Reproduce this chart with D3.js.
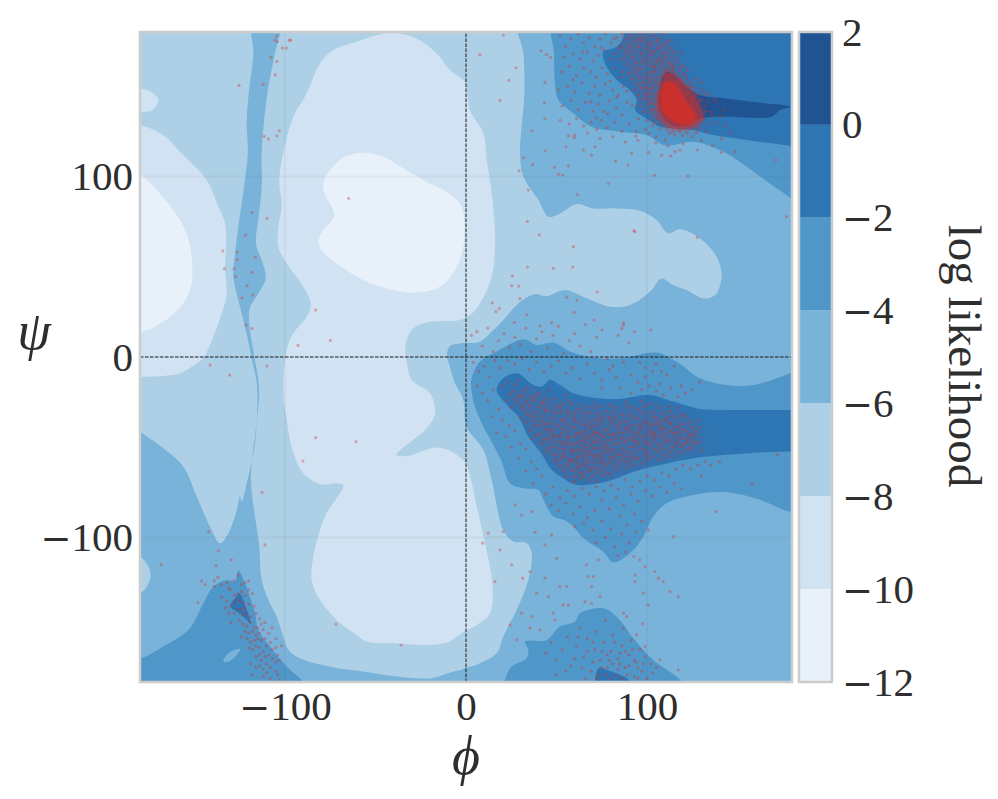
<!DOCTYPE html>
<html>
<head>
<meta charset="utf-8">
<script src="https://cdn.jsdelivr.net/npm/d3@7"></script>
<style>
body { margin: 0; background: #fff; }
text { font-family: "Liberation Serif", serif; fill: #2e2e2e; }
</style>
</head>
<body>
<div class="container"></div>
<script>
// tick labels and levels
let xTicks = [-100, 0, 100]
let yTicks = [-100, 0, 100]
let levels = [-12, -10, -8, -6, -4, -2, 0, 2]
let levelColors = ['#e8f1fa', '#d1e2f2', '#add0e6', '#7ab3da', '#4f97c9', '#2e75b4', '#1f5391']

// contour outlines, [phi, psi], off-plot points get clipped
let level6Left = [[-118.3,190],[-117.4,168.1],[-119.6,149.7],[-121.1,131.2],[-120.5,112.8],[-122.6,94.3],[-125.7,72.1],[-127.5,57.4],[-128.5,44.4],[-125.7,31.5],[-122,16.8],[-118.5,0.2],[-115.5,-14.6],[-115.2,-25.6],[-116.5,-47.8],[-121.1,-70],[-123.9,-80.1],[-124.8,-77.3],[-126.6,-84.7],[-131.2,-97.6],[-135.8,-103.2],[-141.3,-94],[-148.7,-77.3],[-156.1,-60.7],[-167.1,-50.6],[-180,-41.3],[-200,-25],[-200,-200],[10,-200],[0.3,-174.2],[-19.9,-178],[-38.3,-177],[-56.7,-174.2],[-75.1,-171.5],[-91.7,-166.9],[-98.1,-162.2],[-100.9,-154.9],[-104.5,-143.8],[-109.1,-134.6],[-112.8,-123.5],[-113.7,-114.2],[-114.1,-105],[-116.5,-88.4],[-118.7,-70],[-118.3,-58.9],[-115.2,-33],[-114.2,-20.1],[-115.2,-9],[-117,1],[-119.6,26],[-114.7,35.2],[-110.6,43.5],[-112.8,53.7],[-116,62.9],[-114.7,75.8],[-112.8,94.3],[-112.8,112.8],[-111.5,131.2],[-109.1,149.7],[-105.5,168.1],[-101.8,190]]
let level6Right = [[29,190],[31.7,168],[32.2,146],[29.8,112.8],[31.7,99.8],[40,86.9],[45.5,77.7],[51.9,79.5],[61.1,84.7],[70.3,82.3],[83.2,82.3],[96,81],[105.3,75.8],[111.7,68.4],[118.1,70.7],[129.2,65.7],[138.4,55.5],[141.1,44.5],[137.5,34.3],[131,32.5],[121.8,37.1],[114.5,39.8],[108,43.5],[101.6,36.1],[90.5,28.8],[79.5,27.8],[66.6,32.5],[54.7,37.1],[44.5,33.7],[38.1,34.9],[28.9,29.7],[20.6,20.5],[15.1,14.9],[7.7,8.5],[-3.3,7.5],[-9,6],[-10.5,1],[-8.9,-5.3],[-6.1,-14.6],[-1.5,-23.8],[0.3,-38.6],[9.6,-51.5],[14.2,-68.1],[20.6,-95.8],[26.1,-102.2],[33.5,-103.1],[36.3,-108.7],[34.4,-123.5],[28,-140],[20.6,-154.8],[17,-164],[5.9,-170.5],[-3.3,-174.2],[-3,-200],[200,-200],[200,190]]
let level8Nub = [[-180,-110.6],[-174.5,-118],[-174.5,-123.5],[-180,-130.9],[-195,-131],[-195,-110]]
let level10Left = [[-180,128.4],[-167.1,122.9],[-157.9,113.7],[-143.2,98],[-136.7,83.2],[-133,74],[-132.5,61.1],[-133,48.1],[-132.1,35.2],[-134.9,24.2],[-139.5,11.2],[-144.6,0.2],[-148.7,-3.5],[-157.9,-9],[-167.1,-10.5],[-180,-10.9],[-200,-11],[-200,128]]
let level10Nub = [[-180,148.8],[-172.6,146],[-169.9,142.3],[-172.6,137.1],[-180,135.5],[-195,135],[-195,149]]
let level10Center = [[-99,3.9],[-95.3,13.1],[-88,22.3],[-85.6,28.8],[-89.8,38.9],[-99,51.8],[-103.6,61.1],[-103.6,72.1],[-101.8,83.2],[-103.1,98],[-100.9,112.8],[-95.3,133.1],[-88,146],[-80.6,162.6],[-73.3,170],[-60.4,174.6],[-47.5,178.8],[-39.2,179.6],[-27.3,176.4],[-16.2,168.1],[-8.9,158.9],[-0.6,152.4],[0.4,147.8],[2.2,136.8],[9.6,123.8],[11.4,109.1],[14.2,90.6],[16,64.8],[14.2,44.5],[7.7,29.7],[2.2,23.2],[-3.3,20.5],[-19.9,19.5],[-29.1,15.8],[-33.3,7.5],[-32.8,-1.6],[-30,-12.7],[-19.9,-20.1],[-17.1,-31.2],[-21.7,-39.5],[-38.3,-54.2],[-32.8,-54.8],[-14.4,-50.2],[-1.5,-57],[1.3,-62.5],[5.9,-82.8],[10.5,-103.1],[14.5,-125.3],[13.3,-141.9],[5.9,-148.4],[-3.3,-153.4],[-8.9,-157.6],[-19.9,-159.5],[-38.3,-158.5],[-54.9,-157.6],[-60.4,-153.9],[-71.4,-145.6],[-80.6,-134.6],[-85.2,-123.5],[-84.3,-110.6],[-80.6,-95.8],[-77,-86.6],[-67.7,-70.9],[-71.4,-70],[-80.6,-70.5],[-89.8,-64.4],[-95.3,-53.3],[-99,-34.9],[-100.9,-18.3]]
let level12Left = [[-180,100.8],[-170.8,92.5],[-161.6,81.4],[-155.1,70.3],[-152,59.2],[-151.5,40.8],[-156.1,29.7],[-167.1,19.5],[-180,13.6],[-200,13],[-200,101]]
let level12Center = [[-78.8,96.1],[-75.1,103.5],[-67.7,110.5],[-56.7,113.1],[-45.7,110.9],[-34.6,104.5],[-23.6,98],[-10.7,91.5],[-3.3,85.1],[-1,75.8],[-1.5,61.1],[-6.1,48.1],[-14.4,38.9],[-29.1,35.6],[-43.8,38],[-58.5,43.5],[-71.4,51.8],[-79.7,59.2],[-81.5,63.8],[-78.8,70.3],[-72.9,77.7],[-74.2,83.2],[-77.9,89.7]]
let level4Top = [[48.6,190],[48.6,168.1],[49.1,151.5],[51,142.3],[59.3,134.9],[69.4,127.5],[85,124.8],[99.7,122.9],[108.9,117.4],[114.5,117.4],[125.5,119.2],[142.1,113.7],[155,105.4],[167.8,96.1],[179.4,87.8],[200,70],[200,190]]
let level4Mid = [[3.1,-11.8],[7.7,-2.5],[16.9,3],[31.7,9.8],[39,6.7],[48.2,8],[57.4,3],[68.5,-0.1],[85,-0.7],[105.3,2.4],[116.3,-2.5],[129.2,-11.8],[143.9,-15.5],[158.6,-15.5],[178.9,-9],[200,0],[200,-85],[178.9,-85.6],[162.3,-79.1],[143.9,-74.9],[125.5,-76.4],[110.8,-81],[103.4,-88.4],[97.9,-99.5],[90.5,-108.7],[81.3,-113.7],[75.8,-107.8],[64.8,-100.4],[59.3,-93.9],[53.7,-90.2],[48.2,-88.4],[42.7,-79.1],[40,-73.6],[31.7,-72.7],[24.3,-69.9],[19.7,-57.9],[15.1,-48.7],[9.6,-38.5],[5,-27.5],[3.1,-19.2]]
let level4Bottom = [[22.5,-190],[24.3,-172.4],[33.5,-166.8],[34.4,-162.2],[32.6,-157.6],[44.5,-156.7],[51.9,-149.3],[60.2,-146.5],[62.9,-141.9],[75.8,-139.1],[83.2,-143.8],[92.4,-155.8],[103.4,-167.8],[119,-179.4],[130,-195]]
let level4Left = [[-180,-166.9],[-167.1,-160.4],[-152.4,-150.2],[-145.9,-138.2],[-139.5,-127.2],[-132.1,-123.5],[-127.5,-124.4],[-125.7,-118.3],[-122,-125.3],[-116.5,-142],[-114.7,-151.2],[-108.2,-160.4],[-99,-171.5],[-89.8,-179.8],[-80,-195],[-200,-195],[-200,-167]]
let level6Hole = [[-134,-168.7],[-131.2,-164.1],[-124.8,-161.7],[-126.6,-165],[-131.2,-168.7]]
let level2Top = [[86.9,190],[86.9,177.4],[83.2,171.8],[75.8,169],[76.7,162.6],[83.2,153.4],[90.5,147.8],[94.2,142.3],[93.3,136.8],[99.7,132.1],[107.1,127.5],[114.5,126.6],[125.5,125.7],[136.5,122.9],[153.1,120.5],[179.4,116.8],[200,114],[200,190]]
let level2Mid = [[16.9,-18.2],[20.6,-11.8],[28,-9],[37.2,-15.5],[41.8,-16.4],[46.4,-12.7],[51.9,-15.5],[59.3,-20.1],[70.3,-22.5],[85,-23.2],[101.6,-21],[114.5,-24.7],[129.2,-28.8],[143.9,-29.3],[178.9,-29.3],[200,-29],[200,-52],[178.9,-52.4],[162.3,-52.9],[143.9,-54.2],[125.5,-56.1],[107.1,-59.8],[92.4,-63.5],[77.7,-69],[61.1,-70.8],[53.7,-67.1],[47.3,-62.5],[40.9,-52.4],[34.4,-44.1],[28.9,-33],[22.5,-26.5]]
let level2Left = [[-129.7,-136.4],[-127.5,-133.6],[-125.1,-130.9],[-122,-137.3],[-118.9,-147.5],[-122,-144.7],[-126.6,-141],[-129.4,-139.2]]
let level2Bottom = [[73,-190],[73.1,-172.4],[77.7,-173.3],[85,-176],[90.5,-179.4],[95,-190]]
let level0Top = [[107.1,149.7],[108.9,156.1],[111.7,158],[116.3,155.2],[121.8,149.7],[129.2,145.1],[143.9,143.2],[162.3,140.8],[179.4,138.6],[173.3,136.8],[168.7,133.1],[143.9,133.1],[129.2,132.1],[121.8,128.4],[114.5,128.4],[108,134],[106.2,140.4]]

// samples, estimated by eye
let samplesLeft = [[-104.5,177.7],[-105.5,175.5],[-104.2,174.6],[-97.5,175.5],[-96.8,175.5],[-101.4,171.1],[-99.2,171.1],[-107.7,165.9],[-104.4,163.7],[-105.3,156.3],[-125.3,150.4],[-111.9,151],[-103.1,125.3],[-104.4,122.5],[-111.5,122.2],[-109.1,120.7],[-64.8,87.8],[-118.2,80.1],[-109.9,76.8],[-121.8,67.5],[-134.2,58.8],[-126.4,58.1],[-126.3,53.9],[-116.3,55.3],[-133.4,48.9],[-128.1,48.9],[-118.2,47],[-127.2,44.5],[-120.9,39.5],[-117.8,34.3],[-123.7,32.8],[-83,26],[-121.5,17.7],[-118.2,15.8],[-74.9,9.2],[-92.8,6.4],[-141.3,-4.4],[-130.5,-10],[-109.9,-5],[-83,-44.7],[-60.8,-46.9],[-90,-57.6],[-112.6,-75],[-142.1,-96.7],[-111,-104.1],[-71.8,-148],[-35.9,-159.5],[-168.4,-115],[-136.7,-107.4],[-129.6,-112.4],[-138,-115.5]]
let samplesLowerLeft = [[-146,-124],[-148,-136],[-144,-126],[-139,-124],[-139,-127],[-137,-122],[-135,-126],[-132,-125],[-131,-128],[-130,-129],[-128,-124],[-126,-121],[-124,-126],[-122,-125],[-120,-124],[-135,-133],[-132,-135],[-128,-132],[-126,-131],[-124,-130],[-122,-132],[-120,-129],[-118,-131],[-133,-139],[-130,-138],[-128,-136],[-127,-134],[-125,-135],[-123,-136],[-122,-139],[-120,-137],[-117,-138],[-131,-142],[-128,-142],[-126,-140],[-124,-140],[-123,-143],[-121,-142],[-119,-144],[-116,-142],[-114,-145],[-113,-148],[-130,-147],[-125,-146],[-123,-148],[-121,-149],[-119,-147],[-117,-150],[-115,-150],[-111,-147],[-122,-152],[-120,-153],[-118,-152],[-116,-154],[-114,-153],[-112,-151],[-109,-153],[-107,-150],[-124,-155],[-121,-156],[-119,-158],[-117,-157],[-115,-156],[-113,-157],[-111,-156],[-108,-158],[-105,-156],[-120,-161],[-118,-162],[-116,-160],[-114,-161],[-112,-163],[-110,-160],[-107,-162],[-105,-161],[-102,-160],[-116,-166],[-114,-165],[-113,-168],[-111,-166],[-109,-165],[-107,-167],[-105,-169],[-104,-165],[-103,-168],[-119,-170],[-116,-172],[-114,-171],[-112,-173],[-110,-170],[-108,-172],[-105,-174],[-118,-176],[-112,-177],[-110,-175],[-108,-178],[-104,-176],[-103,-179]]
let samplesSparseRight = [[7.7,167.6],[20.6,178.3],[27.6,160.2],[23.7,153.2],[18.8,142.1],[41.4,169.6],[44.5,167.6],[46.7,165.9],[43.6,152.1],[43.3,140.8],[43.6,132.1],[36.3,125.3],[31.7,110.4],[36.8,106.5],[29.3,103.2],[34.4,92.5],[43.6,114.1],[48.8,105],[51.2,101.3],[53.4,100.8],[56.5,105.9],[55.2,116.4],[56.5,122.5],[59.8,121.6],[64.8,114.6],[69.4,111.8],[71.2,116.4],[78.6,96.1],[61.5,90],[82.6,108.5],[89.6,106.3],[91.5,112.8],[100.7,113.3],[104,100.6],[108,111.8],[113,111.3],[115.4,113.7],[122.4,100.2],[127.9,114.6],[140.8,113.3],[148.5,113.7],[171.1,109.1],[177,77.7],[33.9,75.1],[40.5,67.7],[59.3,61.1],[33.9,49.8],[48.2,49.1],[58.9,49.8],[25.6,44.8],[25.2,39.5],[29.1,39.3],[29.8,32.3],[14.5,30],[18.4,26.9],[16.6,25.1],[55.6,33],[61.3,31.3],[72.5,36],[59.8,24.7],[33.5,23.4],[70.7,20.5],[26.7,19.2],[40.9,17.1],[47.3,19],[86.9,17.7],[86,15.8],[92.7,69.9],[93.3,69.4],[127.7,66.2]]
let samplesTopBand = [[52,178],[55,172],[58,176],[62,179],[65,174],[68,177],[71,172],[74,176],[77,179],[80,174],[83,177],[54,166],[59,168],[63,165],[67,169],[70,164],[73,167],[76,170],[79,165],[82,168],[85,171],[53,158],[57,161],[61,156],[65,160],[69,158],[72,155],[75,160],[78,157],[82,160],[85,155],[51,148],[56,150],[60,147],[64,152],[68,146],[71,150],[74,145],[77,151],[81,148],[84,145],[87,150],[53,139],[58,142],[62,137],[66,141],[70,136],[73,140],[76,136],[79,142],[83,138],[86,134],[89,141],[52,131],[57,129],[61,132],[65,128],[69,130],[72,126],[75,131],[78,127],[82,130],[86,125],[90,129],[94,125],[60,123],[67,124],[74,121],[81,122],[88,119],[95,120],[86,179],[89,176],[91,178],[94,175],[96,179],[98,177],[101,174],[103,178],[106,176],[109,179],[112,175],[85,172],[88,170],[90,173],[93,169],[95,172],[97,168],[99,171],[102,173],[104,169],[107,172],[109,168],[112,171],[115,169],[87,165],[89,162],[92,166],[94,163],[96,160],[98,165],[100,162],[102,167],[104,161],[106,165],[108,162],[110,166],[112,163],[114,160],[117,165],[120,161],[90,157],[92,154],[94,158],[96,155],[98,152],[100,157],[102,154],[104,158],[106,151],[108,155],[110,158],[113,156],[116,157],[118,154],[121,156],[124,152],[127,154],[93,148],[95,145],[97,149],[99,146],[101,143],[103,148],[105,145],[107,142],[109,148],[120,150],[123,147],[126,149],[128,146],[131,148],[134,146],[137,143],[96,139],[98,136],[100,140],[102,137],[104,134],[106,139],[108,136],[124,141],[127,138],[129,142],[132,139],[135,136],[138,141],[142,137],[100,131],[103,128],[105,132],[108,129],[111,126],[114,127],[118,125],[122,124],[125,130],[128,127],[131,132],[134,129],[138,130],[143,128],[146,124],[101,124],[105,122],[110,120],[115,123],[120,118],[125,122],[130,120],[136,117],[141,121],[133,125],[103,150],[105,155],[104,143],[102,146],[106,147],[107,152],[108,158],[111,160],[113,162],[115,161],[118,159],[120,157],[122,154],[124,150],[125,147],[126,144],[128,140],[129,137],[130,134],[127,133],[125,128],[123,127],[120,127],[117,127],[114,125],[111,128],[108,131],[106,133],[105,137],[104,140],[103,137],[102,141],[106,144],[122,146],[124,143],[127,145],[130,142],[132,136],[129,131],[126,130],[119,161],[116,163],[112,159],[109,156],[107,160],[105,163],[103,158],[101,152],[99,149],[100,145]]
let samplesTopExtra = [[91.4,171.2],[94.7,176.6],[97.8,163.3],[101.9,169.4],[105.3,174.7],[108.6,164.1],[111.2,168.8],[99.3,154.6],[103.6,160.7],[107.8,149.2],[92.6,160.1],[95.4,150.8],[110.7,155.3],[114.3,158.6],[117.9,152.4],[122.7,149.3],[125.4,141.6],[131.8,145.2],[104.2,129.7],[101.7,135.4],[98.9,143.2],[106.9,126.3],[112.4,123.8],[119.6,122.6],[127.3,124.4],[135.7,133.8],[133.4,141.7],[86.3,157.9],[83.7,164.6],[88.8,147.3],[91.9,139.6],[95.3,131.8],[83.2,143.7],[79.6,152.8],[74.9,171.4],[81.4,176.2],[64.3,168.7],[68.9,141.3],[59.2,153.6],[71.8,132.4],[78.2,134.7],[99.1,125.9],[93.7,122.3],[104.8,118.6],[111.6,116.9],[118.3,114.6],[102.6,164.3],[106.2,170.8],[96.7,175.1],[89.4,167.9],[109.9,173.2],[113.8,166.7],[118.6,168.4],[122.3,158.7],[100.8,148.6],[96.1,142.7],[104.7,152.9],[107.3,146.1],[129.8,152.1],[140.6,133.4]]
let samplesMidCore = [[20,-16],[23,-14],[26,-19],[29,-13],[31,-22],[34,-17],[37,-24],[40,-20],[43,-26],[46,-18],[49,-23],[52,-28],[55,-21],[58,-26],[22,-24],[25,-28],[28,-25],[32,-29],[35,-27],[38,-31],[41,-33],[44,-30],[47,-34],[50,-31],[53,-35],[56,-30],[59,-33],[62,-29],[65,-34],[68,-31],[71,-28],[74,-33],[77,-30],[80,-35],[83,-28],[86,-32],[89,-27],[92,-34],[95,-29],[98,-31],[101,-26],[104,-33],[107,-28],[110,-35],[113,-30],[116,-33],[30,-34],[33,-36],[36,-33],[35,-41],[38,-38],[41,-43],[44,-37],[46,-41],[48,-44],[51,-38],[53,-42],[55,-37],[57,-44],[60,-39],[62,-43],[64,-37],[66,-41],[68,-45],[70,-38],[72,-42],[74,-36],[76,-44],[78,-40],[80,-37],[82,-43],[84,-39],[86,-45],[88,-36],[90,-41],[92,-38],[94,-44],[96,-40],[98,-36],[100,-43],[102,-38],[104,-42],[106,-37],[108,-44],[110,-40],[112,-36],[114,-43],[116,-39],[118,-42],[120,-37],[122,-41],[124,-36],[126,-44],[42,-48],[44,-52],[46,-46],[48,-50],[50,-54],[52,-47],[54,-51],[56,-46],[58,-53],[60,-48],[62,-52],[64,-46],[66,-50],[68,-54],[70,-47],[72,-51],[74,-46],[76,-53],[78,-49],[80,-46],[82,-52],[84,-48],[86,-54],[88,-46],[90,-50],[92,-53],[94,-47],[96,-51],[98,-46],[100,-53],[102,-49],[104,-46],[106,-52],[108,-48],[110,-54],[112,-46],[114,-50],[116,-47],[118,-53],[120,-48],[122,-45],[124,-50],[128,-47],[130,-52],[50,-58],[53,-56],[55,-61],[57,-57],[59,-63],[61,-56],[63,-60],[65,-66],[67,-57],[69,-62],[71,-58],[73,-64],[75,-56],[77,-60],[79,-65],[81,-57],[83,-62],[85,-58],[87,-56],[89,-61],[91,-57],[93,-60],[95,-56],[97,-59],[100,-57],[103,-55],[106,-57],[109,-56],[55,-66],[60,-69],[63,-67],[68,-68],[72,-69],[76,-66],[52,-44],[54,-48],[56,-41],[58,-49],[60,-44],[62,-55],[64,-42],[66,-47],[68,-52],[70,-43],[72,-47],[74,-54],[76,-41],[78,-46],[80,-51],[61,-36],[66,-38],[71,-35],[58,-58],[64,-59],[70,-55],[76,-58],[82,-55],[48,-40],[45,-45],[52,-60],[60,-52],[65,-54],[69,-49],[73,-42],[75,-50],[79,-43],[83,-45],[87,-42],[91,-46],[95,-42],[99,-48],[103,-44],[107,-40],[111,-47],[115,-42],[119,-45],[123,-46],[105,-34],[109,-31],[113,-37],[117,-28],[121,-33],[125,-39],[128,-35]]
let samplesMidExtra = [[43.5,-29.2],[57.8,-38.4],[66.1,-60.7],[49.3,-47.1],[71.6,-44.9],[61.2,-41.8],[54.7,-55.3],[78.4,-52.6],[83.9,-37.2],[92.3,-49.7],[37.6,-35.1],[29.4,-21.3],[63.8,-48.6],[59.1,-62.4],[74.2,-61.9],[68.7,-39.1],[88.6,-58.3],[101.3,-40.7],[112.8,-52.1],[46.9,-36.8],[52.1,-30.4],[40.3,-27.6],[33.7,-24.8],[56.4,-44.2],[64.9,-55.7],[70.8,-50.3],[75.6,-47.8],[81.2,-42.6],[86.7,-50.9],[97.4,-44.1],[105.8,-48.9],[117.3,-38.6],[127.1,-41.3],[122.6,-51.4],[109.7,-42.2],[94.8,-33.7],[73.3,-38.2],[47.6,-42.7],[54.2,-34.8],[61.7,-47.3],[67.4,-43.6],[58.6,-56.9],[62.9,-64.2],[69.9,-65.8],[78.8,-58.7],[84.1,-53.8],[90.9,-44.3],[99.6,-54.7],[107.2,-35.4],[115.9,-48.2],[123.8,-43.2],[129.4,-38.9],[36.4,-45.3],[43.8,-40.2],[51.8,-50.6],[57.3,-31.7],[65.3,-30.8],[72.7,-31.2],[81.6,-30.9],[90.1,-31.6],[100.2,-35.8],[111.3,-33.2],[119.7,-31.8],[26.8,-15.4],[31.6,-18.9],[38.9,-21.7],[44.6,-23.3],[50.3,-26.9],[56.9,-24.1],[63.2,-26.3],[70.1,-25.4],[79.3,-26.8],[88.2,-24.9],[96.7,-24.3],[104.9,-25.9],[112.1,-27.3],[24.2,-20.6],[34.1,-31.7],[42.2,-35.4],[49.7,-56.8],[53.9,-63.2],[59.8,-66.4],[66.6,-52.8],[71.9,-54.4],[77.1,-63.8],[82.7,-60.2],[88.9,-52.7],[93.6,-55.9],[98.4,-51.3],[103.7,-51.1],[108.9,-50.6],[113.6,-55.2],[118.8,-49.7],[125.7,-47.6],[52.8,-39.6],[59.7,-34.8],[67.9,-35.9],[75.2,-34.4],[82.3,-33.8],[89.7,-38.9],[95.8,-37.6],[103.1,-30.3],[55.3,-47.9],[58.2,-51.4],[60.9,-58.1],[63.4,-51.2],[65.7,-44.6],[67.8,-58.9],[70.3,-41.4],[72.4,-55.8],[74.8,-43.3],[76.9,-50.7],[79.4,-55.4],[81.9,-47.9],[84.6,-41.7],[87.3,-47.3],[89.8,-55.1],[92.9,-41.8],[95.2,-47.9],[97.9,-38.4],[100.7,-47.2],[103.3,-36.9],[105.1,-43.9],[108.1,-38.7],[110.4,-45.6],[113.2,-41.2],[116.6,-44.8],[119.4,-40.3],[121.9,-47.4],[124.6,-42.7],[40.8,-37.7],[38.2,-43.4],[42.9,-45.8],[45.7,-50.4],[47.8,-53.6],[50.6,-43.9],[53.3,-53.7],[56.1,-59.4],[61.4,-61.1],[64.2,-63.7],[68.3,-63.2],[71.2,-61.4],[73.9,-58.6],[30.7,-27.4],[35.8,-22.3],[27.3,-22.9],[41.6,-24.8],[47.3,-29.7],[53.7,-25.8],[60.4,-30.6],[67.2,-27.8],[73.8,-27.2],[78.9,-33.3],[85.4,-35.7],[91.6,-27.9],[98.3,-27.4],[102.8,-42.2],[93.1,-46.3],[87.8,-39.6]]
let samplesMidHalo = [[3,12],[6,14],[9,6],[12,16],[15,3],[18,9],[21,13],[24,5],[27,11],[30,7],[33,16],[36,3],[39,10],[42,14],[45,5],[48,12],[51,17],[54,2],[57,9],[60,13],[63,6],[66,18],[69,3],[72,11],[75,15],[78,-1],[81,-5],[84,12],[87,19],[90,8],[93,14],[96,-3],[99,-6],[102,15],[105,-4],[108,-8],[4,-3],[7,-8],[10,-5],[13,-11],[16,-2],[19,-6],[23,-2],[27,-4],[31,-1],[35,-7],[39,-3],[43,-8],[47,-5],[51,-2],[55,-9],[59,-6],[63,-12],[67,-4],[71,-9],[75,-13],[79,-7],[83,-11],[87,-3],[91,-10],[95,-14],[99,-11],[103,-8],[107,-15],[111,-10],[115,-5],[119,-16],[97,-18],[101,-16],[105,-19],[109,-21],[113,-17],[117,-22],[121,-20],[125,-18],[129,-14],[75,-17],[85,-17],[91,-20],[6,-16],[9,-20],[12,-24],[15,-18],[18,-29],[14,-33],[20,-35],[24,-38],[17,-42],[22,-44],[27,-41],[30,-48],[25,-50],[33,-51],[29,-56],[36,-58],[33,-63],[39,-62],[42,-66],[37,-70],[132,-58],[128,-60],[124,-62],[120,-60],[116,-62],[112,-66],[108,-64],[104,-68],[100,-66],[96,-69],[92,-72],[88,-68],[84,-73],[80,-71],[76,-74],[72,-72],[68,-76],[64,-73],[60,-77],[56,-74],[52,-78],[48,-72],[44,-76],[47,-82],[51,-85],[55,-81],[59,-87],[63,-83],[67,-89],[71,-85],[75,-79],[79,-84],[83,-78],[87,-82],[91,-76],[95,-80],[99,-74],[103,-77],[107,-72],[111,-75],[115,-70],[119,-73],[60,-94],[65,-92],[70,-96],[75,-91],[80,-95],[85,-88],[89,-93],[93,-87],[97,-91],[72,-103],[77,-100],[82,-105],[86,-98],[90,-103],[94,-97],[84,-110],[88,-108],[130,-66],[135,-60],[140,-58],[158,-70],[172,-54]]
let samplesLowerRight = [[92.7,-110.5],[96,-112.4],[98.8,-116.1],[93.3,-120.7],[93.3,-124.4],[97.9,-130.8],[100.7,-137.3],[104.3,-118.8],[108.9,-124.4],[112.6,-129.9],[117.2,-132.7],[106.2,-122.5],[114.5,-99.5],[100.7,-95.8],[138,-85.6],[66.6,-115.1],[70.3,-121.6],[43.6,-122.5],[51.9,-127.1],[55.6,-127.1],[45.5,-132.7],[39,-130.8],[35.3,-118.8],[31.3,-122.5],[25.2,-115.1],[16,-124.4],[18.8,-106.8],[12.3,-97.6],[9.2,-103.1],[20.6,-96.7],[38.1,-97.1],[27.1,-81.9],[30.7,-87.5],[36.3,-85.6],[47.3,-98.5],[43.6,-104.1],[50,-111.5],[73.1,-112.4],[67.5,-121.6],[69.4,-127.1],[74,-132.7],[69.4,-136.4],[65.7,-135.5],[56.5,-137.3],[53.7,-137.3],[48.2,-141.9],[49.1,-145.6],[36.3,-143.8],[30.7,-141.9],[35.3,-150.2],[28,-156.7],[24.3,-148.4],[40.9,-151.1],[86.9,-141.9],[88.7,-143.8],[97.5,-147.8],[98.8,-160.4],[94.2,-153.9],[107.1,-167.8],[117.2,-173.3]]
let samplesBottom = [[44,-164],[47,-158],[50,-168],[53,-162],[56,-155],[58,-171],[61,-160],[63,-150],[65,-166],[67,-156],[69,-174],[71,-162],[72,-152],[74,-168],[76,-158],[77,-146],[78,-172],[80,-163],[81,-154],[83,-176],[84,-167],[86,-160],[87,-150],[88,-172],[90,-165],[91,-157],[93,-177],[94,-169],[96,-162],[97,-174],[99,-166],[100,-178],[102,-170],[103,-175],[105,-172],[64,-172],[66,-178],[70,-169],[73,-176],[75,-163],[79,-168],[82,-158],[85,-170],[89,-176],[92,-162],[95,-172],[98,-170],[60,-167],[55,-174],[50,-176],[70,-158],[75,-172],[80,-178],[85,-164],[90,-171],[95,-178],[62,-155],[67,-163],[72,-178],[78,-165],[84,-173],[88,-163],[81,-170],[77,-176],[93,-168],[86,-178]]

// where the dots pile up too thick to list: outlines of the dense patches
let denseCore = [[109.9,152.5],[115.4,151.6],[121.4,142.3],[127.4,132.6],[121.9,128.4],[114.5,130.2],[108.5,135.8],[107.5,144.1]]
let denseRing = [[107,150],[111,158],[116,156],[123,149],[129,140],[131,131],[122,126],[114,126],[107,132],[105,141]]
let denseTop = [[85,178],[110,178],[118,158],[130,140],[128,125],[105,130],[95,145],[88,160]]
let denseMid = [[25,-18],[40,-20],[60,-27],[100,-28],[125,-35],[130,-50],[105,-57],[80,-66],[60,-68],[45,-55],[35,-40]]

let x = d3.scaleLinear().domain([-180, 180]).range([140, 792])
let y = d3.scaleLinear().domain([-180, 180]).range([682, 32])
let cbar = d3.scaleLinear().domain([-12, 2]).range([682, 32])

let svg = d3.select('.container')
    .append('svg')
    .attr('width', 998)
    .attr('height', 799)
    .style('display', 'block')

let defs = svg.append('defs')
defs.append('clipPath').attr('id', 'plot')
    .append('rect')
    .attr('x', x(-180)).attr('y', y(180))
    .attr('width', x(180) - x(-180)).attr('height', y(-180) - y(180))
defs.append('filter').attr('id', 'soft').attr('x', '-30%').attr('y', '-30%').attr('width', '160%').attr('height', '160%')
    .append('feGaussianBlur').attr('stdDeviation', 5)
defs.append('filter').attr('id', 'soft2').attr('x', '-30%').attr('y', '-30%').attr('width', '160%').attr('height', '160%')
    .append('feGaussianBlur').attr('stdDeviation', 1.5)

let outline = d3.line()
    .x(d => x(d[0]))
    .y(d => y(d[1]))
    .curve(d3.curveCatmullRomClosed.alpha(0.5))

let plot = svg.append('g').attr('clip-path', 'url(#plot)')

plot.append('rect')
    .attr('x', x(-180)).attr('y', y(180))
    .attr('width', x(180) - x(-180)).attr('height', y(-180) - y(180))
    .attr('fill', levelColors[2])

// painted back to front
let regions = [
    {level: 3, pts: level6Left}, {level: 3, pts: level6Right},
    {level: 2, pts: level8Nub},
    {level: 1, pts: level10Left}, {level: 1, pts: level10Nub}, {level: 1, pts: level10Center},
    {level: 0, pts: level12Left}, {level: 0, pts: level12Center},
    {level: 4, pts: level4Top}, {level: 4, pts: level4Mid}, {level: 4, pts: level4Bottom}, {level: 4, pts: level4Left},
    {level: 3, pts: level6Hole},
    {level: 5, pts: level2Top}, {level: 5, pts: level2Mid}, {level: 5, pts: level2Left}, {level: 5, pts: level2Bottom},
    {level: 6, pts: level0Top}
]

plot.selectAll('path.region')
    .data(regions)
    .enter().append('path')
    .attr('class', 'region')
    .attr('d', d => outline(d.pts))
    .attr('fill', d => levelColors[d.level])

// faint grid
plot.selectAll('line.gx').data(xTicks).enter().append('line')
    .attr('x1', d => x(d)).attr('x2', d => x(d))
    .attr('y1', y(-180)).attr('y2', y(180))
    .attr('stroke', '#333').attr('stroke-opacity', 0.05).attr('stroke-width', 2)
plot.selectAll('line.gy').data(yTicks).enter().append('line')
    .attr('x1', x(-180)).attr('x2', x(180))
    .attr('y1', d => y(d)).attr('y2', d => y(d))
    .attr('stroke', '#333').attr('stroke-opacity', 0.05).attr('stroke-width', 2)

// dense patches
plot.append('path').attr('d', outline(denseMid)).attr('fill', '#d62f27').attr('opacity', 0.1).attr('filter', 'url(#soft)')
plot.append('path').attr('d', outline(denseTop)).attr('fill', '#d62f27').attr('opacity', 0.12).attr('filter', 'url(#soft)')

let samples = [].concat(samplesLeft, samplesLowerLeft, samplesSparseRight, samplesTopBand, samplesTopExtra,
    samplesMidCore, samplesMidExtra, samplesMidHalo, samplesLowerRight, samplesBottom)

plot.selectAll('circle.sample')
    .data(samples)
    .enter().append('circle')
    .attr('class', 'sample')
    .attr('cx', d => x(d[0]))
    .attr('cy', d => y(d[1]))
    .attr('r', 1.6)
    .attr('fill', '#d62f27')
    .attr('opacity', 0.36)

plot.append('path').attr('d', outline(denseRing)).attr('fill', '#d62d26').attr('opacity', 0.55).attr('filter', 'url(#soft2)')
plot.append('path').attr('d', outline(denseCore)).attr('fill', '#d62d26').attr('opacity', 0.85).attr('filter', 'url(#soft2)')

// dashed zero lines
plot.append('line')
    .attr('x1', x(0)).attr('x2', x(0)).attr('y1', y(-180)).attr('y2', y(180))
    .attr('stroke', '#222').attr('stroke-width', 1).attr('stroke-dasharray', '3.5,1.5')
plot.append('line')
    .attr('x1', x(-180)).attr('x2', x(180)).attr('y1', y(0)).attr('y2', y(0))
    .attr('stroke', '#222').attr('stroke-width', 1).attr('stroke-dasharray', '3.5,1.5')

svg.append('rect')
    .attr('x', x(-180)).attr('y', y(180))
    .attr('width', x(180) - x(-180)).attr('height', y(-180) - y(180))
    .attr('fill', 'none').attr('stroke', '#cccccc').attr('stroke-width', 2.5)

// tick text with the wider minus of the original
function styleTicks(g) {
    g.select('.domain').remove()
    g.selectAll('text').each(function(d) {
        let t = d3.select(this)
            .style('font-size', '41px')
            .style('font-family', '"Liberation Serif", serif')
            .attr('fill', '#2e2e2e')
            .text('')
        if (d < 0) {
            t.append('tspan').style('font-family', '"DejaVu Sans", sans-serif').style('font-size', '37px').text('\u2212')
        }
        t.append('tspan').text(Math.abs(d))
    })
}

// axes
let xAxis = svg.append('g')
    .attr('transform', 'translate(0,' + y(-180) + ')')
    .call(d3.axisBottom(x).tickValues(xTicks).tickSize(0).tickPadding(9))
    .call(styleTicks)
let yAxis = svg.append('g')
    .attr('transform', 'translate(' + x(-180) + ',0)')
    .call(d3.axisLeft(y).tickValues(yTicks).tickSize(0).tickPadding(7))
    .call(styleTicks)

// colour bar
let barX = 799, barW = 33
svg.selectAll('rect.level')
    .data(levelColors)
    .enter().append('rect')
    .attr('class', 'level')
    .attr('x', barX).attr('width', barW)
    .attr('y', (d, i) => cbar(levels[i + 1]))
    .attr('height', (d, i) => cbar(levels[i]) - cbar(levels[i + 1]))
    .attr('fill', d => d)
svg.append('rect')
    .attr('x', barX).attr('y', cbar(2)).attr('width', barW).attr('height', cbar(-12) - cbar(2))
    .attr('fill', 'none').attr('stroke', '#cccccc').attr('stroke-width', 2.5)

let cbarAxis = svg.append('g')
    .attr('transform', 'translate(' + (barX + barW) + ',0)')
    .call(d3.axisRight(cbar).tickValues(levels).tickSize(0).tickPadding(10))
    .call(styleTicks)

svg.append('text')
    .attr('transform', 'translate(960,356) rotate(90)')
    .attr('text-anchor', 'middle')
    .attr('dominant-baseline', 'middle')
    .style('font-size', '47px')
    .text('log likelihood')

svg.append('text')
    .attr('x', 466).attr('y', 774)
    .attr('text-anchor', 'middle')
    .style('font-size', '54px').style('font-style', 'italic')
    .text('\u03d5')
svg.append('text')
    .attr('x', 34).attr('y', 349)
    .attr('text-anchor', 'middle')
    .style('font-size', '54px').style('font-style', 'italic')
    .text('ψ')
</script>
</body>
</html>
